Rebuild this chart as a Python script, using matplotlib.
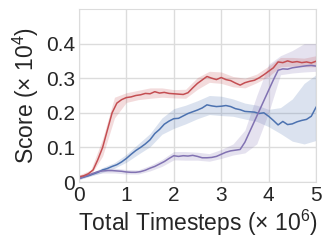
import numpy as np
import matplotlib
matplotlib.use("Agg")
import matplotlib.pyplot as plt

plt.rcParams['font.family'] = ['Liberation Sans', 'DejaVu Sans']
plt.rcParams['mathtext.fontset'] = 'custom'
plt.rcParams['mathtext.rm'] = 'Liberation Sans'

# mean curves, x every 0.1 (x10^6 steps), score in x10^4
x = np.round(np.arange(0, 5.01, 0.1), 2)
red = [0.015, 0.018, 0.024, 0.035, 0.065, 0.100, 0.150, 0.200, 0.228, 0.238,
       0.244, 0.246, 0.250, 0.252, 0.256, 0.255, 0.261, 0.257, 0.259, 0.256,
       0.255, 0.254, 0.253, 0.258, 0.272, 0.285, 0.295, 0.305, 0.300, 0.296,
       0.302, 0.296, 0.293, 0.286, 0.280, 0.287, 0.291, 0.294, 0.301, 0.310,
       0.320, 0.330, 0.347, 0.345, 0.350, 0.346, 0.348, 0.345, 0.347, 0.344,
       0.349]
blue = [0.010, 0.014, 0.018, 0.023, 0.028, 0.035, 0.039, 0.045, 0.050, 0.058,
        0.068, 0.080, 0.091, 0.100, 0.110, 0.122, 0.140, 0.152, 0.167, 0.176,
        0.183, 0.184, 0.191, 0.198, 0.203, 0.208, 0.214, 0.223, 0.220, 0.218,
        0.219, 0.221, 0.218, 0.212, 0.209, 0.204, 0.203, 0.202, 0.198, 0.200,
        0.190, 0.178, 0.165, 0.175, 0.166, 0.168, 0.174, 0.178, 0.181, 0.190,
        0.216]
purple = [0.010, 0.015, 0.020, 0.025, 0.030, 0.032, 0.033, 0.033, 0.032, 0.031,
          0.029, 0.028, 0.028, 0.030, 0.034, 0.040, 0.045, 0.052, 0.059, 0.068,
          0.076, 0.074, 0.076, 0.075, 0.077, 0.074, 0.070, 0.070, 0.071, 0.074,
          0.080, 0.086, 0.090, 0.092, 0.094, 0.115, 0.145, 0.175, 0.205, 0.235,
          0.265, 0.295, 0.323, 0.327, 0.326, 0.330, 0.332, 0.334, 0.336, 0.337,
          0.335]

# shaded bands, x every 0.25
xb = np.arange(0, 5.01, 0.25)
red_lo = [0.010, 0.020, 0.075, 0.185, 0.230, 0.238, 0.242, 0.245, 0.243, 0.242, 0.268,
          0.288, 0.285, 0.275, 0.272, 0.287, 0.305, 0.333, 0.335, 0.333, 0.333]
red_hi = [0.020, 0.035, 0.125, 0.245, 0.258, 0.265, 0.272, 0.272, 0.267, 0.268, 0.302,
          0.320, 0.318, 0.305, 0.300, 0.312, 0.335, 0.360, 0.360, 0.358, 0.365]
blue_lo = [0.007, 0.017, 0.028, 0.040, 0.057, 0.080, 0.102, 0.138, 0.155, 0.168, 0.183,
           0.195, 0.192, 0.190, 0.182, 0.175, 0.160, 0.140, 0.118, 0.110, 0.120]
blue_hi = [0.013, 0.025, 0.042, 0.056, 0.080, 0.110, 0.140, 0.185, 0.212, 0.222, 0.235,
           0.250, 0.248, 0.240, 0.228, 0.222, 0.210, 0.215, 0.240, 0.285, 0.310]
purple_lo = [0.007, 0.019, 0.026, 0.026, 0.023, 0.023, 0.032, 0.045, 0.064, 0.063, 0.063,
             0.060, 0.068, 0.078, 0.084, 0.110, 0.200, 0.310, 0.315, 0.318, 0.320]
purple_hi = [0.013, 0.027, 0.038, 0.040, 0.036, 0.035, 0.048, 0.065, 0.088, 0.088, 0.086,
             0.082, 0.094, 0.110, 0.150, 0.250, 0.340, 0.365, 0.380, 0.400, 0.400]

c_red, c_blue, c_purple = '#c44e52', '#4c72b0', '#8172b2'

fig = plt.figure(figsize=(3.33, 2.5), dpi=100)
ax = fig.add_axes([0.237, 0.272, 0.712, 0.692])

for lo, hi, c in [(blue_lo, blue_hi, c_blue), (purple_lo, purple_hi, c_purple),
                  (red_lo, red_hi, c_red)]:
    ax.fill_between(xb, lo, hi, color=c, alpha=0.2, lw=0)
ax.plot(x, blue, color=c_blue, lw=1.1)
ax.plot(x, purple, color=c_purple, lw=1.1)
ax.plot(x, red, color=c_red, lw=1.1)

ax.set_xlim(0, 5)
ax.set_ylim(0, 0.5)
ax.set_xticks([0, 1, 2, 3, 4, 5])
ax.set_yticks([0, 0.1, 0.2, 0.3, 0.4])
ax.set_yticklabels(['0', '0.1', '0.2', '0.3', '0.4'])
ax.grid(True, color='#dcdcdc', lw=1)
ax.set_axisbelow(True)
for s in ax.spines.values():
    s.set_color('#dcdcdc')
ax.tick_params(length=0, labelsize=15, colors='#262626', pad=3)
ax.set_xlabel(r'Total Timesteps (× $\mathregular{10^6}$)', fontsize=16.5, color='#262626', labelpad=2)
ax.set_ylabel(r'Score (× $\mathregular{10^4}$)', fontsize=16.5, color='#262626', labelpad=3)

fig.savefig('out.png', dpi=100)
